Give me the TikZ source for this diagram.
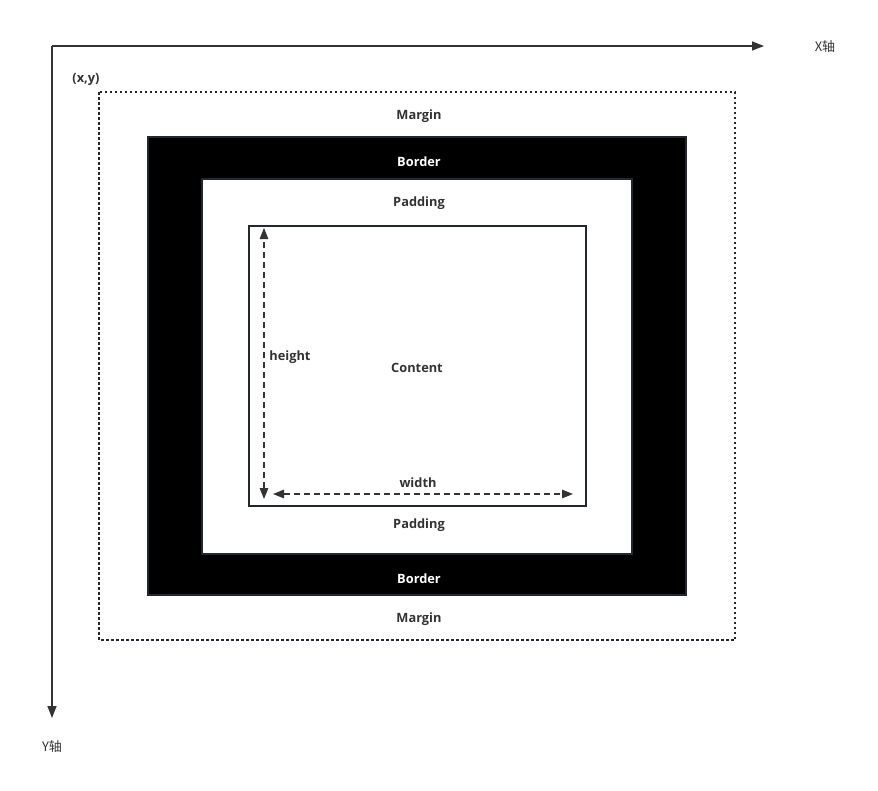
\documentclass[tikz,border=0pt]{standalone}
\usepackage{fontspec}
\setmainfont{Open Sans}
\newfontfamily\cjk{Noto Sans CJK SC}
\usetikzlibrary{arrows.meta}
\definecolor{ink}{HTML}{333333}
\definecolor{edge}{HTML}{23272E}
\begin{document}
\begin{tikzpicture}[x=1pt,y=-1pt,
  lbl/.style={font=\fontsize{12.8}{15}\selectfont\bfseries, text=ink, inner sep=0pt},
  wlbl/.style={font=\fontsize{12.8}{15}\selectfont\bfseries, text=white, inner sep=0pt},
  axis/.style={draw=ink, line width=1.4pt, -{Triangle[length=12pt,width=9pt]}},
  dim/.style={draw=ink, line width=1.3pt, dash pattern=on 6pt off 4pt, {Triangle[length=11pt,width=8.5pt]}-{Triangle[length=11pt,width=8.5pt]}},
  boxline/.style={draw=edge, line width=1.4pt}]
\useasboundingbox (0,0) rectangle (878,790);
% axes
\coordinate (o) at (52,46);
\coordinate (xe) at (764,46);
\coordinate (ye) at (52,718);
\draw[axis] (o) -- (xe);
\draw[axis] (o) -- (ye);
\node[font=\cjk\fontsize{13}{15}\selectfont, text=ink, inner sep=0pt] (xl) at (825,47) {X轴};
\node[font=\cjk\fontsize{13}{15}\selectfont, text=ink, inner sep=0pt] (yl) at (52,747) {Y轴};
\node[lbl] (xy) at (86,79) {(x,y)};
% margin
\draw[draw=edge, line width=1.4pt, dash pattern=on 2.5pt off 2.5pt] (99,92) rectangle (735,640);
\node[lbl] (m1) at (419,116) {Margin};
\node[lbl] (m2) at (419,619) {Margin};
% border
\filldraw[boxline, fill=black] (148,137) rectangle (686,595);
\filldraw[boxline, fill=white] (202,179) rectangle (632,554);
\node[wlbl] (b1) at (419,162) {Border};
\node[wlbl] (b2) at (419,579) {Border};
\node[lbl] (p1) at (419,203) {Padding};
\node[lbl] (p2) at (419,525) {Padding};
% content
\draw[boxline] (249,226) rectangle (586,506);
\node[lbl] (c) at (417,368) {Content};
\coordinate (ht) at (264,228);
\coordinate (hb) at (264,499);
\draw[dim] (hb) -- (ht);
\node[lbl] (h) at (290,357) {height};
\coordinate (wl) at (273,494);
\coordinate (wr) at (573,494);
\draw[dim] (wl) -- (wr);
\node[lbl] (w) at (418,483) {width};
\end{tikzpicture}
\end{document}
